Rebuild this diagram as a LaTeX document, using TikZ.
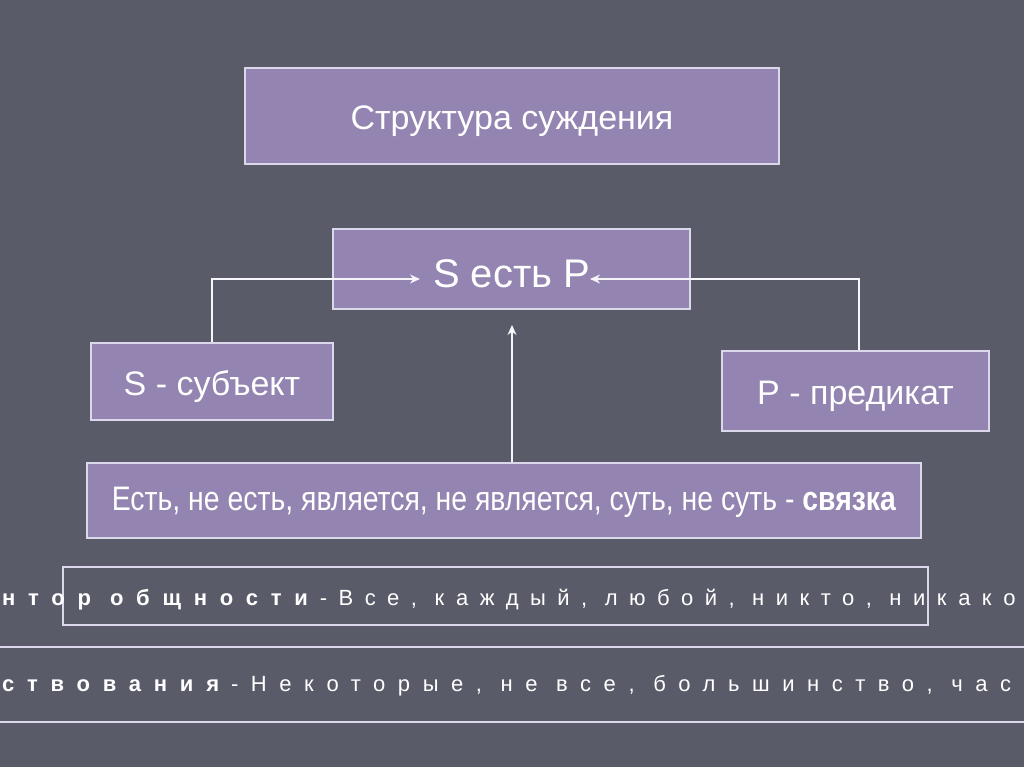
\documentclass[tikz,border=0pt]{standalone}
\usepackage{fontspec}
\setmainfont{Liberation Sans}
\newfontfamily\narrowfont{Liberation Sans}[FakeStretch=0.835]
\newfontfamily\spacedfont{Liberation Sans}[LetterSpace=52]
\usetikzlibrary{arrows.meta,positioning}
\definecolor{slide}{HTML}{5A5B69}
\definecolor{boxfill}{HTML}{9384B1}
\definecolor{boxline}{HTML}{DCD8EC}
\newcommand\lowered[2][5pt]{\raisebox{-#1}[\height][\depth]{#2}}
\newcommand\boldpart[1]{{\bfseries\addfontfeature{LetterSpace=58}#1}\kern12pt}

\begin{document}
\begin{tikzpicture}[x=1pt,y=-1pt,
    box/.style={draw=boxline,fill=boxfill,line width=1.3pt,text=white,
                inner sep=0pt,font=\fontsize{34}{40}\selectfont},
    link/.style={draw=white!92!boxfill,line width=1.2pt},
    arr/.style={link,-{Stealth[length=10pt,width=9pt]}},
    rule/.style={draw=boxline,line width=1.6pt},
    rowtext/.style={text=white,inner sep=0pt,anchor=base west,
                    font=\spacedfont\fontsize{22}{26}\selectfont}]
    \useasboundingbox (0,0) rectangle (1024,767);
    \fill[slide] (0,0) rectangle (1024,767);
    \clip (0,0) rectangle (1024,767);

    % boxes
    \node[box,minimum width=534pt,minimum height=96pt] (title) at (512,116) {\lowered{Структура суждения}};
    \node[box,minimum width=357pt,minimum height=80pt,
          font=\fontsize{40}{46}\selectfont]                (sp)   at (511.5,269) {\lowered{S есть P}};
    \node[box,minimum width=242pt,minimum height=77pt] (subj)  at (212,381.5) {\lowered{S - субъект}};
    \node[box,minimum width=267pt,minimum height=80pt] (pred)  at (855.5,391) {\lowered{P - предикат}};
    \node[box,minimum width=834pt,minimum height=75pt,
          font=\narrowfont\fontsize{34}{40}\selectfont]      (cop)  at (504,500.5)
          {\lowered[2pt]{Есть, не есть, является, не является, суть, не суть - \textbf{связка}}};

    % arrows into S est P
    \coordinate (sIn) at (420,279);
    \coordinate (pIn) at (590,279);
    \coordinate (cIn) at (512,325);
    \draw[arr] (subj.north) |- (sIn);
    \draw[arr] ([xshift=3.5pt]pred.north) |- (pIn);
    \draw[arr] (cop.north -| cIn) -- (cIn);

    % quantifier rows
    \draw[rule] (63,567) rectangle (928,625);
    \node[rowtext] (allRow) at (2,605)
        {\boldpart{нтор общности}-Все, каждый, любой, никто, никако};
    \draw[rule] (0,647) -- (1024,647);
    \draw[rule] (0,722) -- (1024,722);
    \node[rowtext] (someRow) at (2,691)
        {\boldpart{ствования}\addfontfeature{LetterSpace=57}-Некоторые, не все, большинство, час};
\end{tikzpicture}
\end{document}
